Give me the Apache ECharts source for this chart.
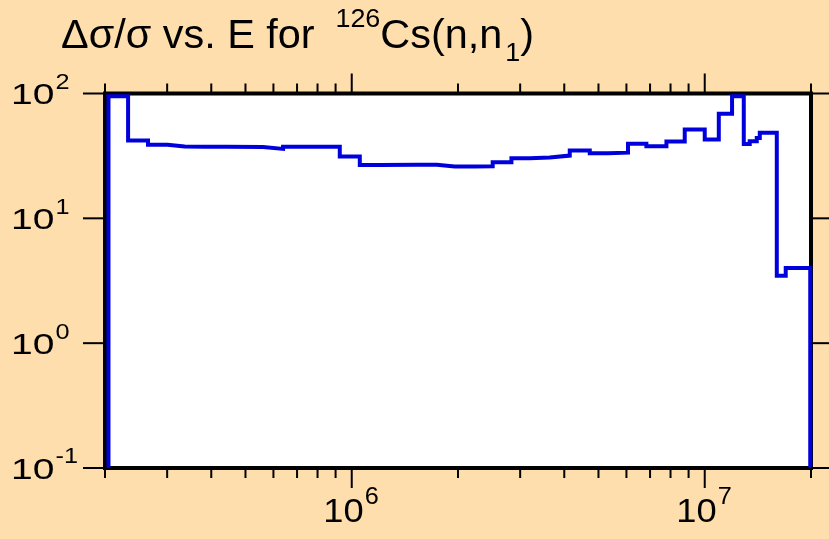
<!DOCTYPE html>
<html>
<head>
<meta charset="utf-8">
<script src="https://cdn.jsdelivr.net/npm/echarts@6/dist/echarts.min.js"></script>
<style>
  html, body { margin: 0; padding: 0; background: #FFDEAD; }
  #chart { width: 829px; height: 539px; }
</style>
</head>
<body>
<div id="chart"></div>
<script>
// Bin edges (energy, eV) and relative uncertainty values (%) per bin
const binEdges = [
  2.046e5, 2.325e5, 2.648e5, 3.006e5, 3.364e5, 3.834e5, 4.425e5, 5.607e5, 6.389e5, 7.2e5,
  9.25e5, 1.054e6, 1.2e6, 1.538e6, 1.741e6, 1.958e6, 2.23e6, 2.508e6, 2.834e6, 3.193e6,
  3.638e6, 4.146e6, 4.724e6, 5.312e6, 6.063e6, 6.834e6, 7.789e6, 8.777e6, 1.0e7, 1.096e7,
  1.195e7, 1.29e7, 1.341e7, 1.404e7, 1.432e7, 1.6e7, 1.696e7, 1.99e7
];
const binValues = [
  95, 42, 38.8, 37.6, 37.4, 37.4, 37.3, 36, 37.4, 37.4,
  31.3, 26.8, 26.9, 26.9, 26.0, 26.0, 26.1, 28.1, 30.3, 30.7,
  31.8, 34.9, 33.2, 33.6, 39.6, 37.8, 41.2, 51.4, 42.8, 68.7,
  95, 39.4, 41.5, 44, 48.5, 3.47, 4.0
];
const xMin = 2e5, xMax = 2e7;
const yMin = 0.1, yMax = 100;
const xMajorTicks = [1e6, 1e7];
const xMinorTicks = [2e5, 3e5, 4e5, 5e5, 6e5, 7e5, 8e5, 9e5,
                     2e6, 3e6, 4e6, 5e6, 6e6, 7e6, 8e6, 9e6, 2e7];
const yMajorTicks = [0.1, 1, 10, 100];
const xLabelExps = [6, 7];
const yLabelExps = [-1, 0, 1, 2];

// Build step path
const stepPoints = [[binEdges[0], yMin]];
for (let i = 0; i < binValues.length; i++) {
  stepPoints.push([binEdges[i], binValues[i]]);
  stepPoints.push([binEdges[i + 1], binValues[i]]);
}
stepPoints.push([binEdges[binEdges.length - 1], yMin]);

const FONT = '"Liberation Sans", Arial, sans-serif';
const BLUE = '#0000dd';

const xTickData = xMajorTicks.map(v => [v, yMin, 1]).concat(xMinorTicks.map(v => [v, yMin, 0]));
const yTickData = yMajorTicks.map(v => [xMin, v]);
const xLabelData = xLabelExps.map(e => [Math.pow(10, e), yMin, e]);
const yLabelData = yLabelExps.map(e => [xMin, Math.pow(10, e), e]);

const chart = echarts.init(document.getElementById('chart'), null, { renderer: 'canvas' });
chart.setOption({
  backgroundColor: '#FFDEAD',
  animation: false,
  graphic: [{
    type: 'text',
    x: 61, y: 7.0,
    scaleX: 1.035,
    silent: true,
    style: {
      text: '{m|Δσ/σ vs. E for }{sup|126}{m|Cs(n,n}{sub|1}{m|)}',
      verticalAlign: 'top',
      fill: '#000',
      rich: {
        m: { fontSize: 40, fontFamily: FONT, lineHeight: 60.2, verticalAlign: 'middle', fill: '#000' },
        sup: { fontSize: 26, fontFamily: FONT, lineHeight: 26, verticalAlign: 'top', fill: '#000', padding: [0, 0, 0, 9] },
        sub: { fontSize: 26, fontFamily: FONT, lineHeight: 32.4, verticalAlign: 'bottom', fill: '#000', padding: [0, 0, 0, 3] }
      }
    }
  }],
  grid: {
    left: 105, right: 18, top: 93.5, bottom: 71,
    show: true, backgroundColor: '#ffffff', borderColor: '#000', borderWidth: 4
  },
  xAxis: {
    type: 'log', logBase: 10, min: xMin, max: xMax,
    axisLine: { show: false }, axisTick: { show: false },
    axisLabel: { show: false }, splitLine: { show: false }
  },
  yAxis: {
    type: 'log', logBase: 10, min: yMin, max: yMax,
    axisLine: { show: false }, axisTick: { show: false },
    axisLabel: { show: false }, splitLine: { show: false }
  },
  series: [
    {
      type: 'line',
      data: stepPoints,
      showSymbol: false,
      symbol: 'none',
      clip: true,
      lineStyle: { color: BLUE, width: 4, join: 'miter', cap: 'butt' },
      silent: true,
      z: 3
    },
    {
      type: 'custom', silent: true, clip: false, z: 5,
      data: xTickData,
      renderItem: function (params, api) {
        const v = api.value(0);
        const len = api.value(2) ? 20 : 10;
        const b = api.coord([v, yMin]);
        const t = api.coord([v, yMax]);
        const st = { stroke: '#000', lineWidth: 2 };
        return {
          type: 'group', children: [
            { type: 'line', shape: { x1: b[0], y1: b[1], x2: b[0], y2: b[1] + len }, style: st },
            { type: 'line', shape: { x1: t[0], y1: t[1], x2: t[0], y2: t[1] - len }, style: st }
          ]
        };
      }
    },
    {
      type: 'custom', silent: true, clip: false, z: 5,
      data: yTickData,
      renderItem: function (params, api) {
        const v = api.value(1);
        const l = api.coord([xMin, v]);
        const r = api.coord([xMax, v]);
        const st = { stroke: '#000', lineWidth: 2 };
        return {
          type: 'group', children: [
            { type: 'line', shape: { x1: l[0], y1: l[1], x2: l[0] - 22, y2: l[1] }, style: st },
            { type: 'line', shape: { x1: r[0], y1: r[1], x2: r[0] + 20, y2: r[1] }, style: st }
          ]
        };
      }
    },
    {
      type: 'custom', silent: true, clip: false, z: 5,
      data: xLabelData,
      renderItem: function (params, api) {
        const p = api.coord([api.value(0), yMin]);
        const e = api.value(2);
        const ax = p[0] + 12;
        return {
          type: 'group', children: [
            { type: 'text', x: ax, y: p[1] + 44.5, scaleX: 1.1,
              style: { text: '10', fontSize: 33, fontFamily: FONT, fill: '#000', align: 'right', verticalAlign: 'middle' } },
            { type: 'text', x: ax + 1, y: p[1] + 30, scaleX: 1.1,
              style: { text: String(e), fontSize: 23, fontFamily: FONT, fill: '#000', align: 'left', verticalAlign: 'middle' } }
          ]
        };
      }
    },
    {
      type: 'custom', silent: true, clip: false, z: 5,
      data: yLabelData,
      renderItem: function (params, api) {
        const p = api.coord([xMin, api.value(1)]);
        const e = api.value(2);
        const ax = p[0] - 50.5;
        return {
          type: 'group', children: [
            { type: 'text', x: ax, y: p[1] + 2.5, scaleX: 1.3,
              style: { text: '10', fontSize: 30, fontFamily: FONT, fill: '#000', align: 'right', verticalAlign: 'middle' } },
            { type: 'text', x: ax + 1, y: p[1] - 10.7, scaleX: 1.15,
              style: { text: String(e), fontSize: 22, fontFamily: FONT, fill: '#000', align: 'left', verticalAlign: 'middle' } }
          ]
        };
      }
    }
  ]
});
</script>
</body>
</html>
